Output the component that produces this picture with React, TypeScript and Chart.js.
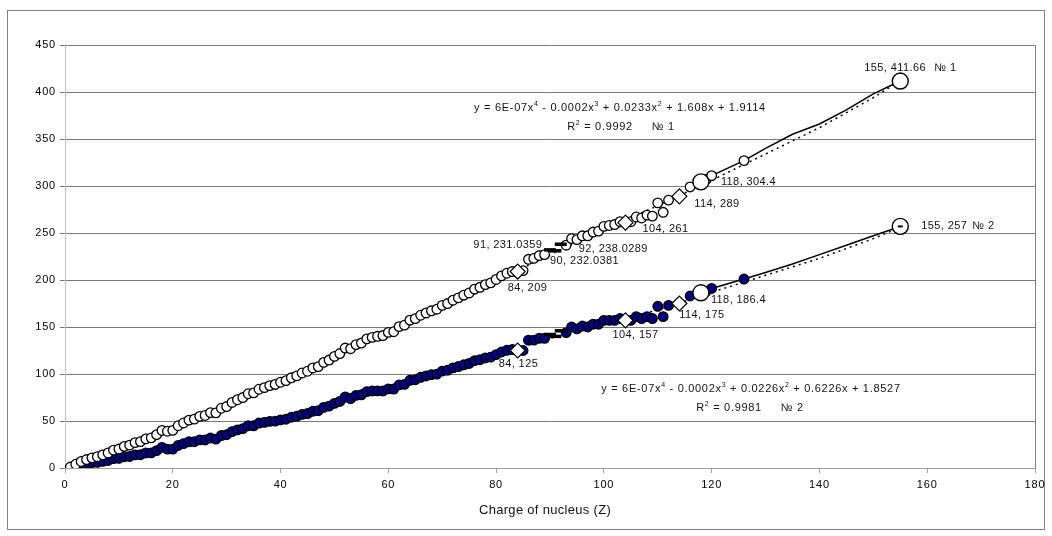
import React, { useEffect, useRef } from 'react';
import { Chart, registerables } from 'chart.js';
Chart.register(...registerables);

const FONT = '"Liberation Sans", Arial, sans-serif';

// Charge of nucleus Z for the ordinary points
const chargeZ = [
  1, 2, 3, 4, 5, 6, 7, 8, 9, 10, 11, 12, 13, 14, 15, 16, 17, 18, 19, 20,
  21, 22, 23, 24, 25, 26, 27, 28, 29, 30, 31, 32, 33, 34, 35, 36, 37, 38, 39, 40,
  41, 42, 43, 44, 45, 46, 47, 48, 49, 50, 51, 52, 53, 54, 55, 56, 57, 58, 59, 60,
  61, 62, 63, 64, 65, 66, 67, 68, 69, 70, 71, 72, 73, 74, 75, 76, 77, 78, 79, 80,
  81, 82, 83, 85, 86, 87, 88, 89,
  93, 94, 95, 96, 97, 98, 99, 100, 101, 102, 103,
  105, 106, 107, 108, 109, 110, 111, 112, 116, 119, 120, 126,
];

// Series No 1 (white circles)
const massNo1 = [
  1.008, 4.003, 6.94, 9.012, 10.81, 12.011, 14.007, 15.999, 18.998, 20.18,
  22.99, 24.305, 26.982, 28.085, 30.974, 32.06, 35.45, 39.948, 39.098, 40.078,
  44.956, 47.867, 50.942, 51.996, 54.938, 55.845, 58.933, 58.693, 63.546, 65.38,
  69.723, 72.63, 74.922, 78.971, 79.904, 83.798, 85.468, 87.62, 88.906, 91.224,
  92.906, 95.95, 98, 101.07, 102.91, 106.42, 107.87, 112.41, 114.82, 118.71,
  121.76, 127.6, 126.9, 131.29, 132.91, 137.33, 138.91, 140.12, 140.91, 144.24,
  145, 150.36, 151.96, 157.25, 158.93, 162.5, 164.93, 167.26, 168.93, 173.05,
  174.97, 178.49, 180.95, 183.84, 186.21, 190.23, 192.22, 195.08, 196.97, 200.59,
  204.38, 207.2, 208.98, 210, 222, 223, 226, 227,
  237, 244, 243, 247, 247, 251, 252, 257, 258, 259, 262,
  262, 267, 266, 269, 268, 282, 272, 285, 299, 307, 311, 327,
];

// Series No 2 (navy circles)
const neutronsNo2 = [
  0.0, 2.0, 3.9, 5.0, 5.8, 6.0, 7.0, 8.0, 10.0, 10.2,
  12.0, 12.3, 14.0, 14.1, 16.0, 16.1, 18.5, 21.9, 20.1, 20.1,
  24.0, 25.9, 27.9, 28.0, 29.9, 29.8, 31.9, 30.7, 34.5, 35.4,
  38.7, 40.6, 41.9, 45.0, 44.9, 47.8, 48.5, 49.6, 49.9, 51.2,
  51.9, 54.0, 55.0, 57.1, 57.9, 60.4, 60.9, 64.4, 65.8, 68.7,
  70.8, 75.6, 73.9, 77.3, 77.9, 81.3, 81.9, 82.1, 81.9, 84.2,
  84.0, 88.4, 89.0, 93.3, 93.9, 96.5, 97.9, 99.3, 99.9, 103.1,
  104.0, 106.5, 107.9, 109.8, 111.2, 114.2, 115.2, 117.1, 118.0, 120.6,
  123.4, 125.2, 126.0, 125, 136, 136, 138, 138,
  144, 150, 148, 151, 150, 153, 153, 157, 157, 157, 159,
  157, 161, 159, 161, 159, 172, 161, 173, 183, 188, 191, 201,
];

// Diamond markers
const diamondZ = [84, 104, 114];
const diamondNo1 = [209, 261, 289];
const diamondNo2 = [125, 157, 175];

// Dash markers
const dashZ = [90, 91, 92];
const dashNo1 = [232.0381, 231.0359, 238.0289];
const dashNo2 = [142, 140, 146];

// Large circles
const bigZ = [118, 155];
const bigNo1 = [304.4, 411.66];
const bigNo2 = [186.4, 257];

// Solid extension lines
const extZ = [118, 120, 126, 130, 135, 140, 145, 150, 155];
const extNo1 = [304.4, 311, 327, 340, 355, 366, 381, 398, 411.66];
const extNo2 = [186.4, 191, 201, 208, 217, 227, 237, 247, 257];

// Dotted polynomial trend lines
const trendZ = [0, 10, 20, 30, 40, 50, 60, 70, 80, 90, 100, 110, 120, 130, 140, 150, 155];
const trendNo1 = [2, 19, 43, 68, 92, 118, 144, 172, 199, 227, 254, 279, 306, 334, 362, 394, 412];
const trendNo2 = [2, 8, 19, 34, 50, 67, 84, 102, 120, 138, 153, 168, 187, 205, 223, 244, 256];

// Labelled points
const labelPoints = [
  { x: 155, y: 411.66, text: '155, 411.66' },
  { x: 118, y: 304.4, text: '118, 304.4' },
  { x: 114, y: 289, text: '114, 289' },
  { x: 104, y: 261, text: '104, 261' },
  { x: 91, y: 231.0359, text: '91, 231.0359' },
  { x: 92, y: 238.0289, text: '92, 238.0289' },
  { x: 90, y: 232.0381, text: '90, 232.0381' },
  { x: 84, y: 209, text: '84, 209' },
  { x: 155, y: 257, text: '155, 257' },
  { x: 118, y: 186.4, text: '118, 186.4' },
  { x: 114, y: 175, text: '114, 175' },
  { x: 104, y: 157, text: '104, 157' },
  { x: 84, y: 125, text: '84, 125' },
];
// offsets (px) and alignment for the labels above, in the same order
const labelOffsets: [number, number, CanvasTextAlign][] = [
  [-36, -13, 'left'],
  [20, 0, 'left'],
  [15, 8, 'left'],
  [17, 6, 'left'],
  [-13, -6, 'right'],
  [18, 5, 'left'],
  [0, 11, 'left'],
  [-10, 16, 'left'],
  [21, 0, 'left'],
  [10, 7, 'left'],
  [0, 11, 'left'],
  [-13, 15, 'left'],
  [-19, 13, 'left'],
];

const seriesTags = ['№ 1', '№ 2'];

const eq1: [string, boolean][] = [
  ['y = 6E-07x', false], ['4', true], [' - 0.0002x', false], ['3', true],
  [' + 0.0233x', false], ['2', true], [' + 1.608x + 1.9114', false],
];
const r1: [string, boolean][] = [['R', false], ['2', true], [' = 0.9992     № 1', false]];
const eq2: [string, boolean][] = [
  ['y = 6E-07x', false], ['4', true], [' - 0.0002x', false], ['3', true],
  [' + 0.0226x', false], ['2', true], [' + 0.6226x + 1.8527', false],
];
const r2: [string, boolean][] = [['R', false], ['2', true], [' = 0.9981     № 2', false]];

function toPts(xs: number[], ys: number[]) {
  return xs.map((x, i) => ({ x, y: ys[i] }));
}

function drawRich(ctx: CanvasRenderingContext2D, parts: [string, boolean][], cx: number, y: number) {
  const main = `11px ${FONT}`;
  const sup = `7px ${FONT}`;
  let w = 0;
  parts.forEach(([t, s]) => { ctx.font = s ? sup : main; w += ctx.measureText(t).width; });
  let x = cx - w / 2;
  ctx.textAlign = 'left';
  ctx.textBaseline = 'middle';
  parts.forEach(([t, s]) => {
    ctx.font = s ? sup : main;
    ctx.fillText(t, x, s ? y - 4 : y);
    x += ctx.measureText(t).width;
  });
}

const overlay = {
  id: 'overlay',
  beforeDraw(chart: any) {
    const ctx = chart.ctx as any;
    ctx.save();
    ctx.fillStyle = '#fff';
    ctx.fillRect(0, 0, chart.width, chart.height);
    ctx.strokeStyle = '#808080';
    ctx.lineWidth = 1;
    ctx.strokeRect(7.5, 10.5, 1037, 519);
    ctx.restore();
    ctx.letterSpacing = '0.8px';
  },
  afterDatasetsDraw(chart: any) {
    const ctx = chart.ctx as any;
    const xs = chart.scales.x;
    const ys = chart.scales.y;
    const ca = chart.chartArea;
    ctx.save();
    ctx.strokeStyle = '#808080';
    ctx.lineWidth = 1;
    const rx = Math.round(ca.right) + 0.5;
    ctx.beginPath();
    ctx.moveTo(rx, ca.top);
    ctx.lineTo(rx, ca.bottom);
    ctx.stroke();

    ctx.letterSpacing = '0.4px';
    ctx.fillStyle = '#111';
    ctx.font = `11px ${FONT}`;
    ctx.textBaseline = 'middle';
    labelPoints.forEach((p, i) => {
      const [dx, dy, al] = labelOffsets[i];
      ctx.textAlign = al;
      ctx.fillText(p.text, xs.getPixelForValue(p.x) + dx, ys.getPixelForValue(p.y) + dy);
    });
    ctx.textAlign = 'left';
    ctx.fillText(seriesTags[0], xs.getPixelForValue(155) + 34, ys.getPixelForValue(411.66) - 13);
    ctx.fillText(seriesTags[1], xs.getPixelForValue(155) + 72, ys.getPixelForValue(257));

    ctx.letterSpacing = '0.7px';
    drawRich(ctx, eq1, 620, 108);
    drawRich(ctx, r1, 621, 127);
    drawRich(ctx, eq2, 751, 389);
    drawRich(ctx, r2, 750, 408);

    ctx.letterSpacing = '0.3px';
    ctx.font = `13px ${FONT}`;
    ctx.textAlign = 'center';
    ctx.fillText('Charge of nucleus (Z)', 545, 510);
    ctx.restore();
  },
};

export default function App() {
  const ref = useRef<HTMLCanvasElement>(null);
  useEffect(() => {
    if (!ref.current) return;
    const chart = new Chart(ref.current, {
      type: 'scatter',
      data: {
        datasets: [
          {
            data: [{ x: 155, y: 257 }],
            pointStyle: 'line', pointRadius: 2.5, borderWidth: 2, borderColor: '#000',
          },
          {
            data: [...toPts(dashZ, dashNo1), ...toPts(dashZ, dashNo2)],
            pointStyle: 'line', pointRadius: 6, borderWidth: 3.5, borderColor: '#000',
          },
          {
            data: [...toPts(bigZ, bigNo1), ...toPts(bigZ, bigNo2)],
            pointStyle: 'circle', pointRadius: 8, borderWidth: 1.4, borderColor: '#000', backgroundColor: '#fff',
          },
          {
            data: [...toPts(diamondZ, diamondNo1), ...toPts(diamondZ, diamondNo2)],
            pointStyle: 'rectRot', pointRadius: 7.5, borderWidth: 1.2, borderColor: '#000', backgroundColor: '#fff',
          },
          {
            data: toPts(chargeZ, massNo1),
            pointStyle: 'circle', pointRadius: 4.8, borderWidth: 1.3, borderColor: '#000', backgroundColor: '#fff',
          },
          {
            data: toPts(chargeZ, neutronsNo2),
            pointStyle: 'circle', pointRadius: 4.8, borderWidth: 1.3, borderColor: '#000', backgroundColor: '#000080',
          },
          {
            data: toPts(extZ, extNo1), showLine: true, pointRadius: 0, borderColor: '#000', borderWidth: 1.5,
          },
          {
            data: toPts(extZ, extNo2), showLine: true, pointRadius: 0, borderColor: '#000', borderWidth: 1.5,
          },
          {
            data: toPts(trendZ, trendNo1), showLine: true, pointRadius: 0, borderColor: '#000', borderWidth: 1.5,
            borderDash: [2, 4],
          },
          {
            data: toPts(trendZ, trendNo2), showLine: true, pointRadius: 0, borderColor: '#000', borderWidth: 1.5,
            borderDash: [2, 4],
          },
        ],
      },
      options: {
        responsive: false,
        animation: false,
        layout: { padding: { left: 0, right: 17, top: 45, bottom: 0 } },
        plugins: { legend: { display: false }, tooltip: { enabled: false } },
        scales: {
          x: {
            type: 'linear', min: 0, max: 180,
            ticks: { stepSize: 20, color: '#000', font: { family: FONT, size: 11 }, padding: 5, maxRotation: 0 },
            grid: { drawOnChartArea: false, drawTicks: true, tickLength: 5, color: '#a0a0a0' },
            border: { color: '#a0a0a0' },
            afterFit: (s: any) => { s.height = 68; },
          },
          y: {
            type: 'linear', min: 0, max: 450,
            ticks: { stepSize: 50, color: '#000', font: { family: FONT, size: 11 }, padding: 4 },
            grid: { color: '#7a7a7a', tickLength: 5 },
            border: { color: '#c0c0c0' },
            afterFit: (s: any) => { s.width = 65; },
          },
        },
      },
      plugins: [overlay],
    });
    return () => chart.destroy();
  }, []);
  return (
    <div style={{ position: 'absolute', left: 0, top: 0, width: 1052, height: 536 }}>
      <canvas ref={ref} width={1052} height={536} />
    </div>
  );
}
